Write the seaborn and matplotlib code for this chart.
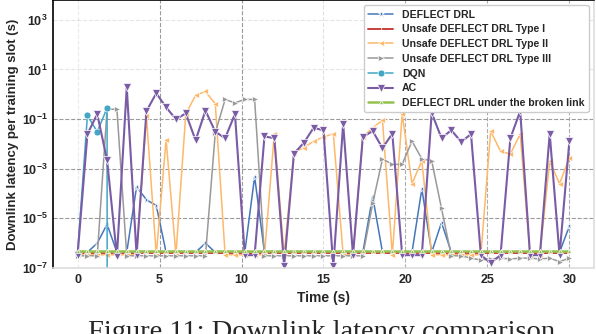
import numpy as np
import seaborn as sns
import matplotlib.pyplot as plt
from matplotlib.ticker import NullLocator

# Time axis (s), one sample every 0.6 s
time_s = [0.0, 0.6, 1.2, 1.8, 2.4, 3.0, 3.6, 4.2, 4.8, 5.4,
          6.0, 6.6, 7.2, 7.8, 8.4, 9.0, 9.6, 10.2, 10.8, 11.4,
          12.0, 12.6, 13.2, 13.8, 14.4, 15.0, 15.6, 16.2, 16.8, 17.4,
          18.0, 18.6, 19.2, 19.8, 20.4, 21.0, 21.6, 22.2, 22.8, 23.4,
          24.0, 24.6, 25.2, 25.8, 26.4, 27.0, 27.6, 28.2, 28.8, 29.4,
          30.0]

# Floor levels of each curve (s)
b = 4.3e-7   # DEFLECT DRL
o = 3.4e-7   # Type II
g = 3.1e-7   # Type III
p = 3.3e-7   # AC

deflect_drl = [b, b, 1e-6, 5.8e-6, b, b, 1.9e-4, 5.6e-5, 3.3e-5, b,
               b, b, b, 1e-6, b, b, b, b, 4.8e-4, b,
               b, b, b, b, b, b, b, b, b, b,
               7.6e-5, b, b, b, b, 1.55e-4, b, 6.8e-6, b, b,
               b, b, b, b, b, b, b, b, b, b,
               4.9e-6]

unsafe_type1 = [3.9e-7] * 51

unsafe_type2 = [o, o, o, o, o, o, o, 0.13, o, 0.015,
                o, 0.16, 0.91, 1.3, 0.41, o, o, o, o, o,
                0.025, o, 0.0045, 0.0071, 0.013, 0.019, 0.026, o, o, 0.019,
                0.045, 0.089, o, 0.16, 2.5e-4, 0.0021, o, o, o, o,
                o, o, 0.033, 0.005, 0.0039, 0.025, o, o, 0.002, 2.5e-4,
                0.0028]

unsafe_type3 = [g, g, g, 0.25, 0.25, g, g, g, g, g,
                g, g, g, g, 0.028, 0.62, 0.45, 0.62, 0.62, g,
                g, g, g, g, g, g, g, g, g, g,
                4e-5, 0.0025, 0.0015, 0.0015, 0.013, 0.0025, 0.0021, 2.5e-5, g, g,
                2.5e-7, 2.1e-7, 2.3e-7, 2.5e-7, 2.3e-7, 2.5e-7, 2.5e-7, 2.3e-7, 2.5e-7, 1.8e-7,
                2.5e-7]

dqn = [4e-7, 0.14, 0.031, 0.28, 0.0]

ac = [p, 0.025, 0.16, 0.0022, 3e-7, 1.9, p, 0.21, 1.1, 0.30,
      0.098, 0.17, 0.014, 0.22, 0.031, 0.017, 0.16, p, p, 0.02,
      0.017, 1.2e-7, 0.0041, 0.011, 0.045, 0.035, 1.2e-7, 0.065, p, 0.019,
      0.033, 0.0068, 0.026, p, p, p, 0.18, 0.017, 0.036, 0.012,
      0.025, p, 1.6e-7, p, 0.017, 0.21, p, p, 0.026, p,
      0.013]

broken_link = [4.9e-7] * 51

x_ticks = [0, 5, 10, 15, 20, 25, 30]
y_ticks = [1e-7, 1e-5, 1e-3, 1e-1, 1e1, 1e3]
y_tick_labels = [r'$\mathbf{10^{-7}}$', r'$\mathbf{10^{-5}}$', r'$\mathbf{10^{-3}}$',
                 r'$\mathbf{10^{-1}}$', r'$\mathbf{10^{1}}$', r'$\mathbf{10^{3}}$']

sns.set_style('white')
plt.rcParams['font.family'] = ['Liberation Sans', 'DejaVu Sans']
plt.rcParams['font.weight'] = 'bold'
plt.rcParams['axes.labelweight'] = 'bold'
plt.rcParams['mathtext.fontset'] = 'custom'
plt.rcParams['mathtext.rm'] = 'Liberation Sans:bold'
plt.rcParams['mathtext.bf'] = 'Liberation Sans:bold'
plt.rcParams['mathtext.default'] = 'bf'

fig = plt.figure(figsize=(5.96, 3.34), dpi=100)
ax = fig.add_axes([0.0889, 0.1976, 0.9077, 0.8024])

series = [
    ('DEFLECT DRL', deflect_drl, dict(color='#4577bb', marker='*', ms=5, lw=1.1)),
    ('Unsafe DEFLECT DRL Type I', unsafe_type1, dict(color='#c8403a', marker='|', ms=3, lw=1.4)),
    ('Unsafe DEFLECT DRL Type II', unsafe_type2, dict(color='#fdb86a', marker='<', ms=5, lw=1.1)),
    ('Unsafe DEFLECT DRL Type III', unsafe_type3, dict(color='#999999', marker='>', ms=5, lw=1.1)),
    ('DQN', dqn, dict(color='#41a7c4', marker='o', ms=5, lw=1.1)),
    ('AC', ac, dict(color='#7a5ba5', marker='v', ms=5.5, lw=1.5)),
    ('DEFLECT DRL under the broken link', broken_link, dict(color='#95c14f', marker='^', ms=3, lw=1.8)),
]

for label, vals, style in series:
    sns.lineplot(x=time_s[:len(vals)], y=vals, ax=ax, label=label,
                 mew=0.5, **style)

ax.set_yscale('log')
ax.set_ylim(1e-7, 6.3e3)
ax.set_xlim(-1.5, 31.5)
ax.set_xticks(x_ticks)
ax.set_yticks(y_ticks)
ax.set_yticklabels(y_tick_labels)
ax.yaxis.set_minor_locator(NullLocator())
ax.tick_params(length=0, labelsize=9, pad=4)
for lab in ax.get_xticklabels():
    lab.set_fontweight('bold')

# dashed grid, some lines fainter as in the figure
ax.grid(True, linestyle='--', color='#9a9a9a', lw=0.8)
for line, alpha in zip(ax.yaxis.get_gridlines(), [0, 1, 1, 1, 0.25, 0.25]):
    line.set_alpha(alpha)
for line, alpha in zip(ax.xaxis.get_gridlines(), [0.2, 1, 1, 0.3, 0.8, 0.8, 0.8]):
    line.set_alpha(alpha)

for side in ['left', 'top']:
    ax.spines[side].set_color('black')
    ax.spines[side].set_linewidth(1.2)
for side in ['bottom', 'right']:
    ax.spines[side].set_color('#dddddd')
    ax.spines[side].set_linewidth(1.2)

ax.set_xlabel('Time (s)', fontsize=10, labelpad=4)
ax.set_ylabel('Downlink latency per training slot (s)', fontsize=9.5, labelpad=2)

ax.legend(loc='upper right', bbox_to_anchor=(0.99, 0.98), borderaxespad=0,
          handlelength=2.4, labelspacing=0.45, frameon=True,
          edgecolor='#cccccc', framealpha=1, fancybox=True,
          prop={'weight': 'bold', 'size': 7.6})

fig.text(0.54, -0.015, 'Figure 11: Downlink latency comparison',
         family='Liberation Serif', fontsize=20.5, weight='normal',
         ha='center', va='baseline')

fig.savefig('out.png', dpi=100)
